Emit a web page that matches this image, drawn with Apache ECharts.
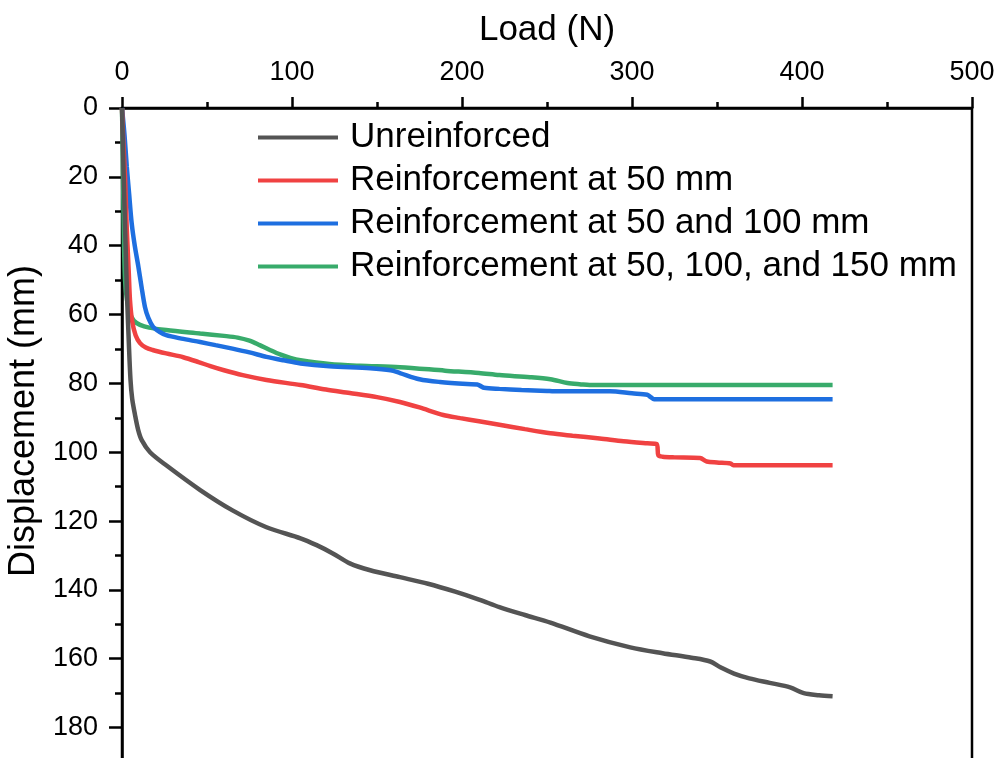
<!DOCTYPE html>
<html>
<head>
<meta charset="utf-8">
<title>Load vs Displacement</title>
<script src="https://cdn.jsdelivr.net/npm/echarts@6/dist/echarts.min.js"></script>
<style>
  html, body { margin: 0; padding: 0; background: #fff; }
  #chart { width: 1003px; height: 758px; }
</style>
</head>
<body>
<div id="chart"></div>
<script>
// Load (N) / displacement (mm)
const loadUnreinforced = [0, 1, 2, 3, 4, 5, 6, 7.6, 9.5, 11.6, 16.5, 26, 46, 65, 85, 105, 114.5, 124, 134, 146, 163.5, 180, 196, 210, 222, 237, 252, 275, 299, 318, 335, 346, 352, 360, 369, 381, 393, 401, 410, 418];
const dispUnreinforced = [0, 20, 38, 55, 68, 79, 84.5, 89, 93.5, 96.5, 100, 103.8, 111, 116.9, 121.8, 125, 127, 129.4, 132.3, 134.3, 136.3, 138.2, 140.5, 142.8, 145, 147.3, 149.5, 153.5, 156.7, 158.4, 159.7, 160.8, 162.5, 164.3, 165.7, 167, 168.3, 170, 170.6, 170.9];

const load50 = [0, 0.8, 1.8, 2.8, 4, 4.7, 6, 8, 10.6, 14, 18, 26, 36, 45, 52, 60, 71, 85, 105, 120, 134, 150, 163.5, 175, 189, 199, 210, 222, 237, 252, 265, 281, 295, 309, 314.5, 315.5, 318, 325, 340, 344, 350, 358, 359.6, 380, 418];
const disp50 = [0, 10, 20, 35, 48, 55.8, 62, 66, 68.3, 69.6, 70.3, 71.3, 72.4, 73.8, 75, 76.2, 77.6, 79, 80.5, 81.8, 82.8, 84, 85.4, 87, 89.2, 90.1, 91, 92, 93.3, 94.5, 95.2, 96, 96.8, 97.4, 97.6, 100.9, 101.3, 101.5, 101.7, 102.7, 103, 103.3, 103.8, 103.8, 103.8];

const load50_100 = [0, 1.5, 2.8, 4.2, 5.7, 7.5, 9.6, 11.5, 13.5, 15.5, 18.3, 22, 26, 35, 46, 55, 65, 75, 85, 95, 105, 122, 146, 158, 163.5, 175, 187, 203, 209, 211, 213, 222, 235, 250, 254, 287, 300, 309, 311, 313, 340, 418];
const disp50_100 = [0, 8, 17, 25, 33.5, 40, 46, 52, 57.8, 61, 63.6, 65, 66, 67, 68, 68.9, 69.9, 71, 72.3, 73.3, 74.2, 75, 75.6, 76.2, 77, 78.8, 79.6, 80.2, 80.3, 80.8, 81.3, 81.6, 81.9, 82.2, 82.3, 82.3, 82.9, 83.3, 84, 84.6, 84.6, 84.6];

const load50_100_150 = [0, 0.4, 0.8, 1.2, 1.8, 3, 4.7, 7, 10.6, 16, 26, 46, 60, 68, 75, 81, 87, 93, 99, 105, 122, 140, 163.5, 190, 210, 222, 240, 252, 262, 270, 275, 418];
const disp50_100_150 = [0, 12, 26.7, 40, 50, 56, 59.7, 61.8, 63, 63.8, 64.5, 65.5, 66.2, 66.7, 67.6, 68.9, 70.3, 71.6, 72.6, 73.3, 74.4, 74.9, 75.3, 76.3, 77, 77.6, 78.2, 78.8, 79.9, 80.3, 80.5, 80.5];

const seriesNames = [
  "Unreinforced",
  "Reinforcement at 50 mm",
  "Reinforcement at 50 and 100 mm",
  "Reinforcement at 50, 100, and 150 mm"
];
const seriesColors = ["#545454", "#F04242", "#1E6FE0", "#38AB6B"];

const xTicks = [0, 100, 200, 300, 400, 500];
const yTicks = [0, 20, 40, 60, 80, 100, 120, 140, 160, 180];

function pairs(xs, ys) {
  return xs.map((x, i) => [x, ys[i]]);
}

const allData = [
  pairs(loadUnreinforced, dispUnreinforced),
  pairs(load50, disp50),
  pairs(load50_100, disp50_100),
  pairs(load50_100_150, disp50_100_150)
];

const font = "Liberation Sans, Arial, sans-serif";

let myChart = echarts.init(document.getElementById("chart"));
myChart.setOption({
  animation: false,
  backgroundColor: "#fff",
  textStyle: { fontFamily: font },
  grid: {
    left: 122,
    top: 108,
    width: 850,
    height: 654,
    containLabel: false,
    outerBoundsMode: "none",
    show: true,
    borderColor: "#000",
    borderWidth: 2.5,
    backgroundColor: "transparent"
  },
  legend: {
    orient: "vertical",
    left: 253,
    top: 115,
    itemWidth: 80,
    itemHeight: 4,
    itemGap: 8,
    icon: "rect",
    data: seriesNames,
    textStyle: {
      fontFamily: font,
      fontSize: 35,
      lineHeight: 34,
      color: "#000",
      padding: [0, 0, 0, 7]
    }
  },
  xAxis: {
    type: "value",
    position: "top",
    min: xTicks[0],
    max: xTicks[xTicks.length - 1],
    interval: 100,
    name: "Load (N)",
    nameLocation: "middle",
    nameGap: 60,
    nameTextStyle: { fontFamily: font, fontSize: 35, color: "#000" },
    axisLine: { show: true, lineStyle: { color: "#000", width: 2.5 } },
    axisTick: { show: true, inside: false, length: 11, lineStyle: { color: "#000", width: 2.5 } },
    minorTick: { show: true, splitNumber: 2, length: 6, lineStyle: { color: "#000", width: 2.5 } },
    axisLabel: { fontFamily: font, fontSize: 27, color: "#000", margin: 22 },
    splitLine: { show: false }
  },
  yAxis: {
    type: "value",
    inverse: true,
    min: 0,
    max: 190,
    interval: 20,
    name: "Displacement (mm)",
    nameLocation: "middle",
    nameGap: 74,
    nameTextStyle: { fontFamily: font, fontSize: 36, color: "#000", padding: [0, 0, 0, 28] },
    axisLine: { show: true, lineStyle: { color: "#000", width: 2.5 } },
    axisTick: { show: true, inside: false, length: 13, lineStyle: { color: "#000", width: 2.5 } },
    minorTick: { show: true, splitNumber: 2, length: 7, lineStyle: { color: "#000", width: 2.5 } },
    axisLabel: {
      fontFamily: font,
      fontSize: 27,
      color: "#000",
      margin: 24,
      formatter: v => (yTicks.indexOf(v) >= 0 ? String(v) : "")
    },
    splitLine: { show: false }
  },
  series: allData.map((d, i) => ({
    name: seriesNames[i],
    type: "line",
    data: d,
    symbol: "none",
    smooth: 0.3,
    color: seriesColors[i],
    lineStyle: { width: 4.5, color: seriesColors[i] },
    z: 2 + (3 - i)
  }))
});
</script>
</body>
</html>
